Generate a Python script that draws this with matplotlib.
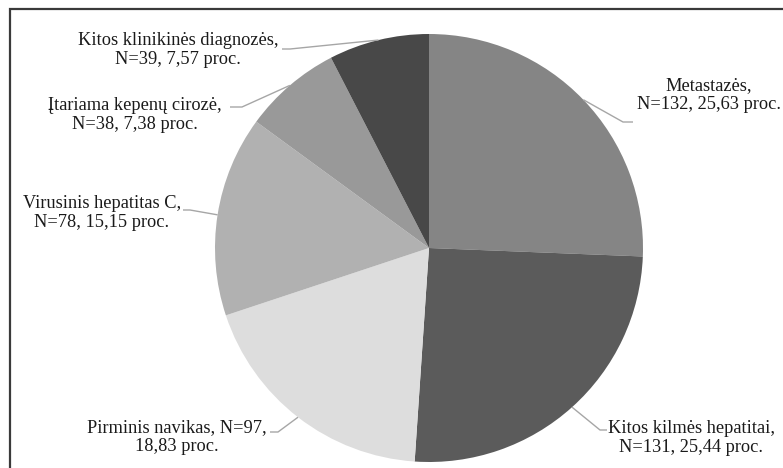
import numpy as np
import matplotlib.pyplot as plt
from matplotlib.patches import Rectangle

plt.rcParams['font.family'] = ['Liberation Serif', 'DejaVu Serif']

names = ["Metastazės", "Kitos kilmės hepatitai", "Pirminis navikas",
         "Virusinis hepatitas C", "Įtariama kepenų cirozė",
         "Kitos klinikinės diagnozės"]
counts = [132, 131, 97, 78, 38, 39]
colors = ["#858585", "#5b5b5b", "#dddddd", "#b1b1b1", "#999999", "#484848"]
templates = ["{name},\nN={n}, {p} proc.", "{name},\nN={n}, {p} proc.",
             "{name}, N={n},\n{p} proc.", "{name},\nN={n}, {p} proc.",
             "{name},\nN={n}, {p} proc.", "{name},\nN={n}, {p} proc."]

# layout in pixels (y measured from top)
W, H = 783, 468
cx, cy, R = 429, 248, 214
text_xy = [(709, 95), (691, 438), (177, 437), (102, 213), (135, 115), (178, 50)]
elbow_xy = [(623, 122), (600, 430), (278, 432), (190, 210), (242, 107), (290, 49)]
end_xy = [(633, 122), (607, 430), (270, 432), (183, 210), (230, 107), (282, 49)]

fig = plt.figure(figsize=(W / 100, H / 100), dpi=100)
ax = fig.add_axes([0, 0, 1, 1])

wedges, _ = ax.pie(counts, colors=colors, startangle=90, counterclock=False,
                   center=(cx, H - cy), radius=R, frame=True,
                   wedgeprops=dict(linewidth=0))
ax.set_xlim(0, W)
ax.set_ylim(0, H)
ax.set_aspect('equal')
ax.axis('off')

total = sum(counts)
for i, w in enumerate(wedges):
    mid = np.deg2rad((w.theta1 + w.theta2) / 2)
    x0 = cx + R * np.cos(mid)
    y0 = (H - cy) + R * np.sin(mid)
    ex, ey = elbow_xy[i]
    fx, fy = end_xy[i]
    ax.plot([x0, ex, fx], [y0, H - ey, H - fy], color="#a6a6a6", lw=1,
            solid_capstyle='butt')
    p = f"{counts[i] / total * 100:.2f}".replace('.', ',')
    label = templates[i].format(name=names[i], n=counts[i], p=p)
    tx, ty = text_xy[i]
    ax.text(tx, H - ty, label, ha='center', va='center', multialignment='center',
            fontsize=13.2, linespacing=1.08, color="#1a1a1a")

# outer frame
ax.add_patch(Rectangle((10, -20), W + 20, H - 9 + 20, fill=False,
                       ec="#3a3a3a", lw=1.6, clip_on=False))

fig.savefig("out.png", dpi=100)
